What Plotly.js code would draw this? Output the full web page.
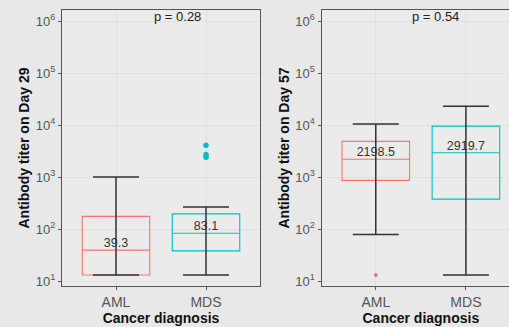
<!DOCTYPE html>
<html><head><meta charset="utf-8">
<script src="https://cdn.plot.ly/plotly-3.0.1.min.js"></script>
<style>html,body{margin:0;padding:0;overflow:hidden;background:#e8e8e8;}</style>
</head><body><div id="chart"></div>
<script>
const categories = ["AML", "MDS"];
const colors = ["#F8766D", "#00BFC4"];
// Day 29
const d29Lower = [13, 13];
const d29Q1 = [13, 38];
const d29Median = [39.3, 83.1];
const d29Q3 = [175, 195];
const d29Upper = [1000, 265];
const d29OutX = ["MDS", "MDS", "MDS"];
const d29OutY = [4100, 2700, 2400];
const d29P = "p = 0.28";
// Day 57
const d57Lower = [78, 13];
const d57Q1 = [860, 375];
const d57Median = [2198.5, 2919.7];
const d57Q3 = [4850, 9500];
const d57Upper = [10500, 23000];
const d57OutX = ["AML"];
const d57OutY = [13];
const d57P = "p = 0.54";

const yTickVals = [10, 100, 1000, 10000, 100000, 1000000];
const yTickText = ["10<sup>1</sup>", "10<sup>2</sup>", "10<sup>3</sup>", "10<sup>4</sup>", "10<sup>5</sup>", "10<sup>6</sup>"];

function panel(xa, ya, lower, q1, med, q3, upper, outX, outY) {
  const tr = [];
  categories.forEach((c, i) => {
    tr.push({
      type: "box", xaxis: xa, yaxis: ya, x: [c],
      q1: [q1[i]], median: [med[i]], q3: [q3[i]],
      lowerfence: [q1[i]], upperfence: [q3[i]],
      width: 0.75, whiskerwidth: 0,
      line: {color: colors[i], width: 1.1},
      fillcolor: "rgba(0,0,0,0)", hoverinfo: "skip", showlegend: false
    });
  });
  tr.push({
    type: "scatter", mode: "markers", xaxis: xa, yaxis: ya,
    x: categories, y: lower,
    marker: {size: 1, opacity: 0},
    error_y: {type: "data", symmetric: false,
      array: upper.map((u, i) => u - lower[i]),
      arrayminus: lower.map(() => 0),
      color: "#333", thickness: 1.5, width: 23},
    showlegend: false, hoverinfo: "skip"
  });
  tr.push({
    type: "scatter", mode: "text", xaxis: xa, yaxis: ya,
    x: categories, y: med, text: med.map(v => v.toFixed(1)),
    textposition: "top center", cliponaxis: false,
    textfont: {family: "Liberation Sans, Arial, sans-serif", size: 12.5, color: "#333"},
    showlegend: false, hoverinfo: "skip"
  });
  tr.push({
    type: "scatter", mode: "markers", xaxis: xa, yaxis: ya,
    x: outX, y: outY,
    marker: {color: outX.map(x => colors[categories.indexOf(x)]), size: outX.length > 1 ? 5.5 : 4},
    showlegend: false, hoverinfo: "skip"
  });
  return tr;
}

const data = [].concat(
  panel("x", "y", d29Lower, d29Q1, d29Median, d29Q3, d29Upper, d29OutX, d29OutY),
  panel("x2", "y2", d57Lower, d57Q1, d57Median, d57Q3, d57Upper, d57OutX, d57OutY)
);

const W = 520;
const font = {family: "Liberation Sans, Arial, sans-serif"};
function xax(dom, anchor) {
  return {domain: dom, anchor: anchor, type: "category", range: [-0.6, 1.6],
    showline: true, mirror: true, linecolor: "#555", linewidth: 1.2,
    ticks: "outside", ticklen: 3, tickcolor: "#555",
    showgrid: true, gridcolor: "#e0e0e0", gridwidth: 1,
    tickfont: {family: font.family, size: 14, color: "#555"},
    title: {text: "<b>Cancer diagnosis</b>", font: {family: font.family, size: 14, color: "#111"}, standoff: 0}};
}
function yax(anchor, label) {
  return {anchor: anchor, domain: [0, 1], type: "log", range: [0.9038, 6.2115],
    showline: true, mirror: true, linecolor: "#555", linewidth: 1.2,
    ticks: "outside", ticklen: 3, tickcolor: "#555",
    tickvals: yTickVals, ticktext: yTickText,
    showgrid: true, gridcolor: "#e0e0e0", gridwidth: 1, zeroline: false,
    tickfont: {family: font.family, size: 13, color: "#555"},
    title: {text: "<b>" + label + "</b>", font: {family: font.family, size: 14, color: "#111"}, standoff: 2}};
}

const layout = {
  width: W, height: 327,
  margin: {l: 62, r: 0, t: 10, b: 41},
  paper_bgcolor: "#e8e8e8", plot_bgcolor: "#ebebeb",
  showlegend: false,
  xaxis: xax([0, 198 / 458], "y"),
  yaxis: yax("x", "Antibody titer on Day 29"),
  xaxis2: xax([(321.7 - 62) / 458, 1], "y2"),
  yaxis2: yax("x2", "Antibody titer on Day 57"),
  annotations: [
    {xref: "x", yref: "paper", x: 0.68, y: 0.975, yanchor: "middle", text: d29P, showarrow: false, font: {family: font.family, size: 13, color: "#222"}},
    {xref: "x2", yref: "paper", x: 0.66, y: 0.975, yanchor: "middle", text: d57P, showarrow: false, font: {family: font.family, size: 13, color: "#222"}}
  ]
};

Plotly.newPlot("chart", data, layout, {staticPlot: true, displayModeBar: false});
</script></body></html>
